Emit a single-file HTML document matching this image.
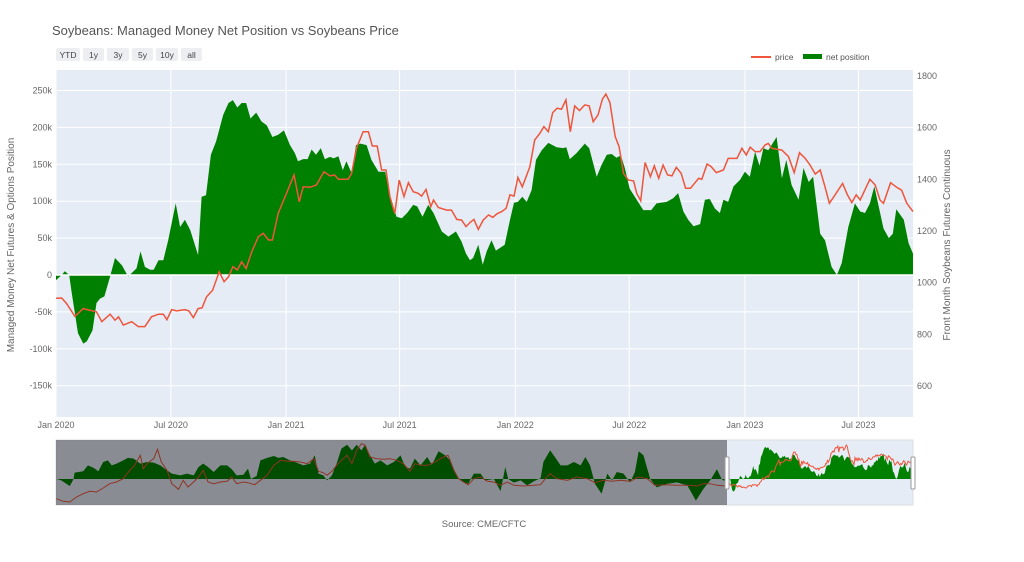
<!DOCTYPE html>
<html><head><meta charset="utf-8">
<style>
html,body{margin:0;padding:0;background:#fff;}
svg{display:block;font-family:"Liberation Sans",sans-serif;}
</style></head>
<body>
<svg id="chart" width="1024" height="562" viewBox="0 0 1024 562" xmlns="http://www.w3.org/2000/svg">
  <rect x="0" y="0" width="1024" height="562" fill="#fff"/>
  <text x="52" y="35" font-size="13" fill="#555">Soybeans: Managed Money Net Position vs Soybeans Price</text>
  <g font-size="8.5" fill="#444" text-anchor="middle">
    <rect x="56" y="48" width="24" height="13" rx="2" fill="#eceef1"/><text x="68" y="58" fill="#444">YTD</text>
    <rect x="83" y="48" width="21" height="13" rx="2" fill="#eceef1"/><text x="93.5" y="58" fill="#444">1y</text>
    <rect x="107" y="48" width="22" height="13" rx="2" fill="#eceef1"/><text x="118" y="58" fill="#444">3y</text>
    <rect x="132" y="48" width="21" height="13" rx="2" fill="#eceef1"/><text x="142.5" y="58" fill="#444">5y</text>
    <rect x="156" y="48" width="22" height="13" rx="2" fill="#eceef1"/><text x="167" y="58" fill="#444">10y</text>
    <rect x="181" y="48" width="21" height="13" rx="2" fill="#eceef1"/><text x="191.5" y="58" fill="#444">all</text>
  </g>
  <g font-size="8.5" fill="#555">
    <line x1="751" y1="57" x2="771" y2="57" stroke="#ef553b" stroke-width="2"/>
    <text x="775" y="60">price</text>
    <rect x="803" y="54" width="19" height="5" fill="#008000"/>
    <text x="826" y="60">net position</text>
  </g>
  <rect x="56" y="70" width="857" height="347" fill="#e5ecf6"/>
  <g id="grid"></g>
  <g id="marks"></g>
  <g id="axes"></g>
  <text transform="translate(14,245) rotate(-90)" text-anchor="middle" font-size="10" fill="#666">Managed Money Net Futures &amp; Options Position</text>
  <text transform="translate(950,245) rotate(-90)" text-anchor="middle" font-size="10" fill="#666">Front Month Soybeans Futures Continuous</text>
  <g id="slider"></g>
  <text x="484" y="527" text-anchor="middle" font-size="9.5" fill="#666">Source: CME/CFTC</text>
</svg>
<script>
// Main chart data: week index since Jan 2020
const netWeeks=[0,1.3,2,3,3.6,5,6.2,7,8.3,9.2,10,11,12.3,13.4,15,16.4,18.3,19.2,20.2,21.4,22.2,23.3,24.4,25.5,27.2,28.2,29.3,30.5,32.3,33.1,34.1,35.2,36.4,38,39.2,40.2,41.2,42.2,43.2,44.2,45.5,46.7,47.9,49.2,50.5,51.8,53.2,54.3,55,56.2,57.2,58.1,59.1,60.2,61.1,62.3,63.1,64.2,65.2,66,67.2,68.2,69.2,70.6,71.7,73.3,74.8,76.3,77.4,78.6,79.8,81.2,82.1,83.3,84.6,85.8,87.7,89.2,90.9,92.2,93.2,94.1,94.8,96,97,97.9,99,100,102,103.2,104.1,105,106,107,108.1,109.1,110.4,111.9,113.8,115.3,116,116.8,118.3,120.2,121.2,122.9,124,125.2,126.3,127.4,128.4,129.3,130.4,132,133.5,135.3,136.5,138.8,140.3,141.4,142.6,143.7,144.9,146.4,147.5,148.6,149.8,150.9,151.7,152.8,154,155.5,156.6,157.7,158.9,159.9,160.8,161.9,163.8,165,166,167.2,168.8,169.9,171.1,172.1,173.7,174.8,176.3,177.5,178.6,180.1,181.6,182.8,183.9,185,186,187,188.1,189.3,190.2,191,192.7,193.8,194.8];
const netValues=[-7,0,5,0,-25,-79,-93,-90,-75,-38,-32,-29,-2,23,13,-2,9,32,11,7,7,20,20,47,97,65,75,61,27,106,108,163,181,217,233,237,227,233,233,212,220,208,203,187,190,196,176,165,154,157,157,170,163,172,157,160,158,161,142,154,138,176,178,176,156,140,140,99,79,77,84,95,93,79,95,84,59,52,59,45,29,20,23,41,14,32,47,33,41,75,98,99,106,99,115,156,169,179,173,172,173,157,165,178,172,133,149,163,164,159,162,145,117,102,88,88,97,99,104,111,86,75,66,69,102,103,90,84,102,99,120,129,140,133,167,148,172,169,187,131,156,122,102,145,126,133,56,47,11,0,16,65,97,86,84,97,120,93,63,50,56,89,75,43,29];
const priceWeeks=[0,1.3,2.4,4.3,6.2,9.2,10.4,12.3,13.4,14.2,15.3,17.2,18.7,20.2,21.7,23.3,24.4,25.2,26.3,27.4,29.3,30.2,31.2,32.3,33.2,34.2,35.6,37.1,38.2,39.2,40.2,41.2,42.2,43.2,44.5,46,47.1,48.3,49.2,50.5,52.4,54.1,55.3,56.2,57.7,59.2,60.9,62.3,63.3,64.2,66.4,67.2,68.3,69.8,71,71.9,73,74,75,75.9,77,78,79.1,80.1,81.2,82.3,83.1,84.1,85.2,85.8,86.9,88.8,89.9,91.1,92.2,93.2,94.1,95,96,97.1,98.3,99.3,100.2,101.3,102.3,103.2,104.1,105,106,107.7,108.8,110,110.9,111.9,112.9,113.9,114.9,115.9,116.9,117.9,119,120.2,121.2,122.1,123.2,124.2,125,125.9,127.1,128,129,130.1,131.3,132,132.9,133.9,135.1,136,137,138,139,140,141,142.1,143.1,144.2,146.1,146.8,148,148.9,150.1,151.7,152.8,154.8,155.9,156.9,157.8,158.9,160,161.2,161.9,162.7,165,166.5,167.8,169,170.3,171.4,172.6,173.7,174.8,175.8,177.1,178.8,179.9,180.9,181.9,182.8,185,186.2,187.3,188.1,189.7,191.1,192.2,193.4,194.8];
const priceValues=[940,941,919,870,900,887,849,878,855,868,836,849,830,830,868,878,878,857,896,891,896,891,865,900,903,945,971,1042,1004,1023,1062,1049,1081,1055,1120,1178,1191,1165,1165,1268,1346,1417,1313,1371,1369,1378,1429,1413,1417,1400,1400,1423,1520,1584,1584,1529,1529,1436,1436,1333,1268,1397,1333,1387,1352,1346,1335,1361,1294,1320,1291,1281,1281,1245,1242,1217,1233,1245,1206,1242,1262,1253,1266,1275,1288,1340,1335,1407,1371,1448,1552,1578,1604,1584,1658,1675,1671,1707,1584,1684,1666,1688,1684,1623,1649,1710,1730,1697,1565,1526,1423,1397,1394,1346,1317,1465,1410,1452,1404,1455,1417,1413,1446,1423,1365,1365,1404,1400,1459,1449,1426,1436,1481,1481,1520,1494,1524,1507,1507,1533,1539,1520,1513,1488,1426,1503,1481,1455,1420,1436,1371,1307,1340,1384,1340,1310,1340,1320,1400,1378,1320,1307,1387,1369,1358,1307,1275];
// Range-slider history (weeks relative to Jan 2020)
const histNetWeeks=[-704,-699,-690,-686,-685,-676,-671,-665,-660,-655,-650,-646,-641,-634,-629,-623,-616,-609,-602,-595,-588,-583,-574,-567,-560,-555,-550,-545,-539,-532,-525,-520,-515,-508,-503,-500,-494,-490,-483,-476,-471,-466,-459,-452,-445,-438,-433,-429,-424,-420,-415,-410,-405,-399,-394,-389,-384,-380,-375,-370,-364,-357,-350,-343,-338,-333,-328,-322,-315,-310,-303,-296,-291,-287,-282,-277,-272,-266,-259,-254,-245,-238,-233,-230,-224,-217,-210,-203,-196,-193,-186,-181,-175,-168,-161,-154,-149,-144,-139,-132,-126,-121,-116,-109,-102,-97,-93,-88,-81,-74,-63,-53,-42,-33,-25,-18,-11,-6,-1];
const histNetValues=[0,-10,-52,0,47,57,101,82,57,126,138,101,114,138,156,151,114,126,121,101,64,40,27,40,27,89,114,89,52,101,101,72,27,32,77,0,22,138,156,170,156,163,138,121,101,114,175,40,27,-10,27,114,225,254,212,254,212,254,175,114,138,101,126,175,89,77,151,101,163,106,205,175,138,64,0,-22,-35,40,40,-10,0,-91,89,0,-27,-10,-47,-17,7,126,212,163,101,101,126,101,163,101,-35,-109,40,-10,52,40,-25,52,205,175,0,-62,-35,-25,-47,-160,-72,-10,72,0,-25];
const histPriceWeeks=[-704,-697,-690,-683,-676,-669,-662,-655,-648,-641,-634,-627,-622,-616,-613,-608,-602,-598,-594,-588,-583,-576,-571,-566,-560,-555,-550,-545,-539,-532,-525,-520,-515,-508,-503,-496,-490,-483,-476,-469,-462,-455,-448,-441,-434,-429,-424,-420,-415,-410,-405,-399,-394,-389,-384,-380,-375,-368,-361,-354,-347,-340,-333,-328,-321,-314,-307,-300,-293,-287,-282,-277,-272,-266,-259,-252,-245,-238,-231,-224,-214,-203,-196,-191,-186,-179,-168,-158,-147,-139,-130,-121,-112,-102,-93,-84,-76,-63,-53,-42,-32,-25,-18,-11,-2];
const histPriceValues=[603,547,533,638,708,757,743,827,918,953,1023,1198,1303,1513,1233,1359,1443,1639,1373,1198,918,799,988,848,953,1058,1198,953,918,953,967,1058,918,953,939,897,988,1093,1303,1408,1387,1387,1373,1338,1443,1177,1149,1093,1177,1303,1408,1513,1338,1618,1758,1723,1478,1443,1429,1443,1408,1338,1177,1338,1303,1303,1373,1457,1513,1198,1023,953,897,1023,1058,967,953,883,953,883,869,883,897,1023,1128,1023,988,1058,1023,939,988,967,988,967,1058,1023,883,897,883,883,869,918,918,883,869];
const xTickLabels=["Jan 2020","Jul 2020","Jan 2021","Jul 2021","Jan 2022","Jul 2022","Jan 2023","Jul 2023"];
const xTickWeeks=[0,26.1,52.3,78.1,104.4,130.3,156.6,182.4];
const leftTicks=[250,200,150,100,50,0,-50,-100,-150];
const rightTicks=[1800,1600,1400,1200,1000,800,600];

const NS="http://www.w3.org/2000/svg";
function mk(tag,attrs,parent){const e=document.createElementNS(NS,tag);for(const k in attrs)e.setAttribute(k,attrs[k]);parent.appendChild(e);return e;}
const L=56,R=913,T=70,B=417;
const xMain=w=>L+(w-0)/(194.8-0)*(R-L);
const yNet=v=>275-v/50*36.9;
const yPrice=p=>282.7-(p-1000)/200*51.7;
const grid=document.getElementById('grid'),marks=document.getElementById('marks'),axes=document.getElementById('axes');

leftTicks.forEach(t=>{
  const y=yNet(t);
  if(t!==0){const g=mk('line',{x1:L,x2:R,y1:y,y2:y,stroke:'#fff','stroke-width':1},grid);
  
  }
  const tx=mk('text',{x:L-4,y:y+3,'text-anchor':'end','font-size':9,fill:'#666'},axes);
  tx.textContent=t===0?'0':t+'k';
  
  
});
rightTicks.forEach(t=>{
  const tx=mk('text',{x:R+4,y:yPrice(t)+3,'font-size':9,fill:'#666'},axes);
  tx.textContent=t;
  
  
});
xTickWeeks.forEach((w,i)=>{
  const x=xMain(w);
  const g=mk('line',{x1:x,x2:x,y1:T,y2:B,stroke:'#fff','stroke-width':1},grid);
  
  
  const tx=mk('text',{x:x,y:428,'text-anchor':'middle','font-size':9,fill:'#666'},axes);
  tx.textContent=xTickLabels[i];
  
  
});

function areaPath(ws,vs,xf,yf,y0){
  let d='M'+xf(ws[0]).toFixed(1)+','+y0;
  ws.forEach((w,i)=>{d+='L'+xf(w).toFixed(1)+','+yf(vs[i]).toFixed(1);});
  d+='L'+xf(ws[ws.length-1]).toFixed(1)+','+y0+'Z';return d;
}
function linePath(ws,vs,xf,yf){return ws.map((w,i)=>(i?'L':'M')+xf(w).toFixed(1)+','+yf(vs[i]).toFixed(1)).join('');}

const area=mk('path',{d:areaPath(netWeeks,netValues,xMain,yNet,yNet(0)),fill:'#008000'},marks);


const zl=mk('line',{x1:L,x2:R,y1:yNet(0),y2:yNet(0),stroke:'#fff','stroke-width':1.5},marks);


const pl=mk('path',{d:linePath(priceWeeks,priceValues,xMain,yPrice),fill:'none',stroke:'#ef553b','stroke-width':1.5},marks);



// range slider
const sl=document.getElementById('slider');
const ST=440,SB=505,selX=727;
const xS=w=>L+(w+704.5)/(194.8+704.5)*(R-L);
const ySN=v=>479-v/7.4;
const ySP=p=>445+(1730-p)/21;
const sbg=mk('rect',{x:L,y:ST,width:R-L,height:SB-ST,fill:'#e5ecf6',stroke:'#ddd','stroke-width':1},sl);


const hnW=histNetWeeks.concat(netWeeks),hnV=histNetValues.concat(netValues);
const hpW=histPriceWeeks.concat(priceWeeks),hpV=histPriceValues.concat(priceValues);
const sa=mk('path',{d:areaPath(hnW,hnV,xS,ySN,ySN(0)),fill:'#008000'},sl);


const sp=mk('path',{d:linePath(hpW,hpV,xS,ySP),fill:'none',stroke:'#ef553b','stroke-width':1},sl);


const mask=mk('rect',{x:L,y:ST,width:selX-L,height:SB-ST,fill:'#000','fill-opacity':0.4},sl);


[selX,R].forEach(x=>{
  const h=mk('rect',{x:x-2,y:457,width:4,height:32,rx:1,fill:'#fff',stroke:'#999','stroke-width':1},sl);
  
  
});
</script>
</body></html>
